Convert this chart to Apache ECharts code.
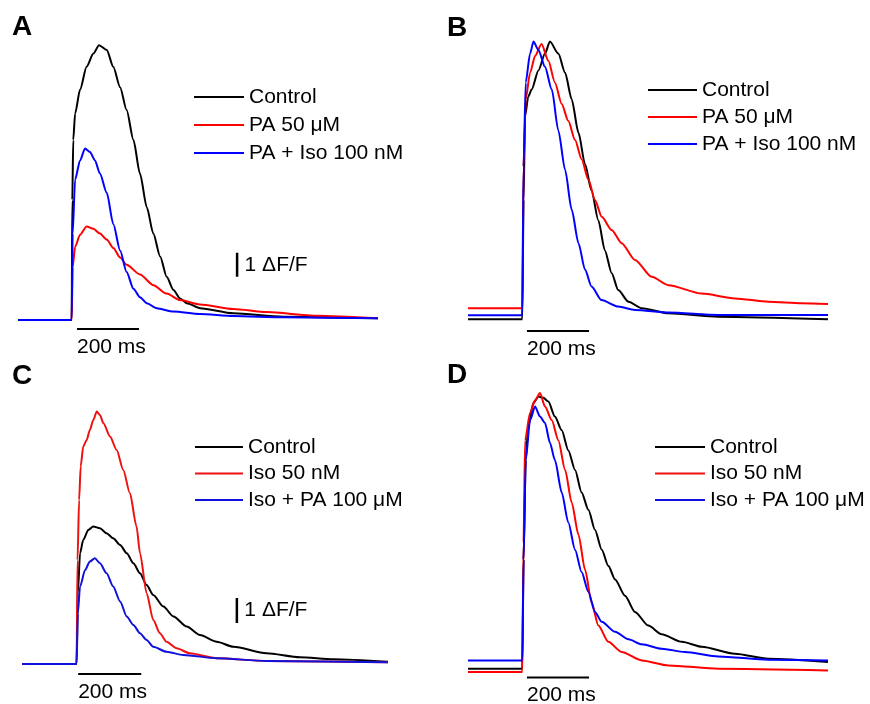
<!DOCTYPE html>
<html><head><meta charset="utf-8">
<script src="https://cdn.jsdelivr.net/npm/echarts@6/dist/echarts.min.js"></script>
<style>html,body{margin:0;padding:0;background:#fff}#c{width:870px;height:704px}</style>
</head><body><div id="c"></div>
<script>
// ---- data (time in ms, amplitude in ΔF/F) ----
const panelLetters = ['A', 'B', 'C', 'D'];
const namesAB = ['Control', 'PA 50 μM', 'PA + Iso 100 nM'];
const namesCD = ['Control', 'Iso 50 nM', 'Iso + PA 100 μM'];

const a_control = [[0,0],[173,0],[175,5.0],[178,7.5],[184,8.6],[200,9.6],[221,10.55],[243,11.1],[261,11.45],[286,11.25],[307,10.55],[329,9.7],[350,8.75],[372,7.5],[393,6.1],[415,4.7],[436,3.6],[458,2.65],[479,1.8],[501,1.25],[522,0.9],[544,0.7],[587,0.49],[694,0.28],[855,0.14],[1160,0.07]];
const a_pa50 = [[0,0],[173,0],[176,2.2],[184,3.05],[200,3.55],[221,3.9],[243,3.8],[264,3.6],[286,3.35],[307,3.0],[329,2.6],[350,2.3],[393,1.9],[436,1.45],[479,1.1],[522,0.83],[586,0.65],[694,0.46],[801,0.33],[962,0.18],[1160,0.07]];
const a_paIso = [[0,0],[173,0],[176,3.6],[184,5.85],[200,6.65],[216,7.15],[232,7.0],[248,6.65],[264,6.1],[286,5.3],[307,4.0],[329,2.9],[350,2.0],[372,1.3],[393,0.95],[415,0.7],[447,0.49],[501,0.35],[586,0.25],[694,0.17],[855,0.11],[1160,0.07]];

const b_control = [[0,0.03],[175,0.03],[179,5.0],[184,8.5],[194,9.3],[205,9.6],[227,10.4],[248,11.1],[264,11.6],[291,11.1],[313,10.3],[334,9.2],[356,7.8],[377,6.5],[398,5.4],[420,4.15],[441,2.9],[463,1.95],[484,1.25],[517,0.76],[560,0.49],[646,0.28],[807,0.14],[1160,0.03]];
const b_pa50 = [[0,0.49],[175,0.49],[179,6.4],[186,9.2],[200,10.3],[216,11.0],[237,11.5],[259,10.8],[280,9.9],[302,9.0],[323,8.3],[345,7.5],[366,6.7],[388,5.85],[409,5.0],[431,4.3],[463,3.75],[495,3.2],[538,2.5],[592,1.8],[646,1.45],[753,1.1],[860,0.9],[968,0.76],[1075,0.7],[1160,0.67]];
const b_paIso = [[0,0.2],[175,0.2],[179,6.4],[186,9.9],[200,11.1],[211,11.6],[227,11.25],[248,10.55],[270,9.6],[291,7.9],[313,6.25],[334,4.6],[356,3.2],[377,2.1],[398,1.4],[430,0.83],[484,0.56],[538,0.42],[646,0.31],[807,0.21],[1160,0.21]];

const c_control = [[0,0],[173,0],[177,2.83],[184,4.43],[194,4.96],[210,5.36],[226,5.5],[247,5.43],[268,5.23],[289,5.03],[311,4.76],[332,4.43],[353,4.03],[374,3.63],[395,3.16],[416,2.76],[448,2.3],[480,1.9],[522,1.5],[564,1.16],[617,0.89],[670,0.69],[775,0.43],[881,0.27],[987,0.19],[1160,0.09]];
const c_iso50 = [[0,0],[173,0],[176,4.16],[181,6.56],[186,7.9],[194,8.7],[205,8.96],[215,9.36],[226,9.76],[237,10.1],[247,9.96],[258,9.63],[279,9.1],[300,8.56],[321,7.76],[342,6.83],[363,5.5],[374,4.43],[395,2.83],[416,1.76],[437,1.23],[458,0.89],[490,0.63],[532,0.43],[617,0.23],[775,0.12],[1160,0.07]];
const c_isoPa = [[0,0],[173,0],[177,2.03],[184,3.1],[200,3.76],[215,4.1],[231,4.23],[247,4.03],[268,3.63],[289,3.1],[311,2.5],[332,1.9],[353,1.56],[374,1.23],[395,0.96],[416,0.69],[458,0.49],[511,0.36],[617,0.23],[775,0.12],[1160,0.07]];

const d_control = [[0,-0.08],[175,-0.08],[179,4.3],[186,8.3],[194,9.65],[211,10.6],[227,10.85],[243,10.8],[259,10.65],[280,10.05],[302,9.5],[323,8.7],[345,7.9],[366,7.0],[388,6.3],[409,5.5],[431,4.7],[452,4.05],[474,3.5],[506,2.85],[538,2.2],[581,1.65],[624,1.3],[689,1.0],[753,0.8],[860,0.52],[968,0.32],[1160,0.19]];
const d_iso50 = [[0,-0.21],[175,-0.21],[179,5.0],[184,9.1],[200,10.2],[216,10.7],[232,11.0],[248,10.45],[270,9.9],[291,9.1],[313,7.9],[334,6.6],[356,5.3],[377,3.9],[398,2.6],[420,1.65],[452,1.0],[495,0.59],[560,0.25],[646,0.05],[807,-0.08],[1160,-0.15]];
const d_isoPa = [[0,0.25],[175,0.25],[179,4.3],[186,8.3],[200,9.9],[216,10.45],[232,10.05],[248,9.8],[264,9.0],[280,8.3],[302,7.0],[323,5.8],[345,4.7],[366,3.8],[388,3.0],[409,2.2],[431,1.8],[474,1.4],[517,1.1],[560,0.9],[624,0.72],[699,0.59],[807,0.41],[968,0.28],[1160,0.25]];

// scale bars (200 ms horizontal, 1 ΔF/F vertical)
const timeBarMs = 200;
const timeBarStart = [190, 190, 178, 190];
const timeBarLevel = [-0.38, -0.46, -0.4, -0.44];
const timeBarLabel = '200 ms';
const ampBarTime = [706, null, 681, null];
const ampBarBase = [1.8, null, 1.64, null];
const ampBarLabel = '1 ΔF/F';

// ---- layout ----
const FONT = 'Liberation Sans, Arial, sans-serif';
const panelTraces = [
  [a_control, a_pa50, a_paIso],
  [b_control, b_pa50, b_paIso],
  [c_control, c_iso50, c_isoPa],
  [d_control, d_iso50, d_isoPa]
];
const panelNames = [namesAB, namesAB, namesCD, namesCD];
const traceColors = [
  ['#000000', '#ff0000', '#0000ff'],
  ['#000000', '#ff0000', '#0000ff'],
  ['#000000', '#ee1111', '#1111dd'],
  ['#000000', '#ff0000', '#0000ff']
];
const grids = [
  {left: 18, top: 32, width: 360, height: 324},
  {left: 468, top: 32, width: 360, height: 324},
  {left: 22, top: 364, width: 366, height: 337.5},
  {left: 468, top: 368, width: 360, height: 337.5}
];
const legendPos = [
  {left: 194, top: 86.5, itemWidth: 50, itemGap: 7},
  {left: 648, top: 79.5, itemWidth: 49, itemGap: 6},
  {left: 195, top: 436.5, itemWidth: 48, itemGap: 5.5},
  {left: 655, top: 436.5, itemWidth: 50, itemGap: 5.5}
];
const letterPos = [[12, 13], [447, 14], [12, 362], [447, 361]];

const textStyleBase = {fontSize: 21, fontFamily: FONT, color: '#000', textBorderWidth: 0, textShadowBlur: 0, opacity: 1};

const series = [];
panelTraces.forEach((traces, p) => {
  traces.forEach((d, i) => {
    series.push({
      type: 'line', name: panelNames[p][i], xAxisIndex: p, yAxisIndex: p,
      data: d, showSymbol: false, symbol: 'none', smooth: 0.25, smoothMonotone: 'x',
      color: traceColors[p][i],
      lineStyle: {color: traceColors[p][i], width: 2},
      itemStyle: {color: traceColors[p][i]},
      silent: true, z: 2 + i
    });
  });
  // time scale bar
  series.push({
    type: 'line', name: 'timebar' + p, xAxisIndex: p, yAxisIndex: p,
    data: [[timeBarStart[p], timeBarLevel[p]], [timeBarStart[p] + timeBarMs, timeBarLevel[p]]],
    showSymbol: false, symbol: 'none', lineStyle: {color: '#000', width: 2}, silent: true,
    endLabel: {show: false}
  });
  series.push({
    type: 'scatter', name: 'timelabel' + p, xAxisIndex: p, yAxisIndex: p,
    data: [[timeBarStart[p], timeBarLevel[p]]], symbolSize: 1,
    itemStyle: {color: '#000', opacity: 0}, silent: true,
    label: Object.assign({show: true, formatter: timeBarLabel, position: 'bottom', distance: 7, align: 'left'}, textStyleBase)
  });
  if (ampBarTime[p] !== null) {
    series.push({
      type: 'line', name: 'ampbar' + p, xAxisIndex: p, yAxisIndex: p,
      data: [[ampBarTime[p], ampBarBase[p]], [ampBarTime[p], ampBarBase[p] + 1]],
      showSymbol: false, symbol: 'none', lineStyle: {color: '#000', width: 2.5}, silent: true
    });
    series.push({
      type: 'scatter', name: 'amplabel' + p, xAxisIndex: p, yAxisIndex: p,
      data: [[ampBarTime[p], ampBarBase[p] + 0.5]], symbolSize: 1,
      itemStyle: {color: '#000', opacity: 0}, silent: true,
      label: Object.assign({show: true, formatter: ampBarLabel, position: 'right', distance: 7}, textStyleBase)
    });
  }
});

const option = {
  animation: false,
  backgroundColor: '#fff',
  grid: grids.map(g => Object.assign({containLabel: false}, g)),
  xAxis: grids.map((g, i) => ({type: 'value', gridIndex: i, min: 0, max: 1160, show: false})),
  yAxis: grids.map((g, i) => ({type: 'value', gridIndex: i, min: -1.5, max: 12, show: false})),
  legend: legendPos.map((l, p) => ({
    data: panelNames[p], orient: 'vertical', left: l.left, top: l.top,
    itemWidth: l.itemWidth, itemHeight: 2, itemGap: l.itemGap, icon: 'rect',
    selectedMode: false, padding: 0,
    textStyle: {fontSize: 21, lineHeight: 21, fontFamily: FONT, color: '#000'}
  })),
  graphic: panelLetters.map((t, i) => ({
    type: 'text', left: letterPos[i][0], top: letterPos[i][1],
    style: {text: t, font: 'bold 28px ' + FONT, fill: '#000'}
  })),
  series: series
};
const chart = echarts.init(document.getElementById('c'), null, {renderer: 'canvas'});
chart.setOption(option);
</script></body></html>
